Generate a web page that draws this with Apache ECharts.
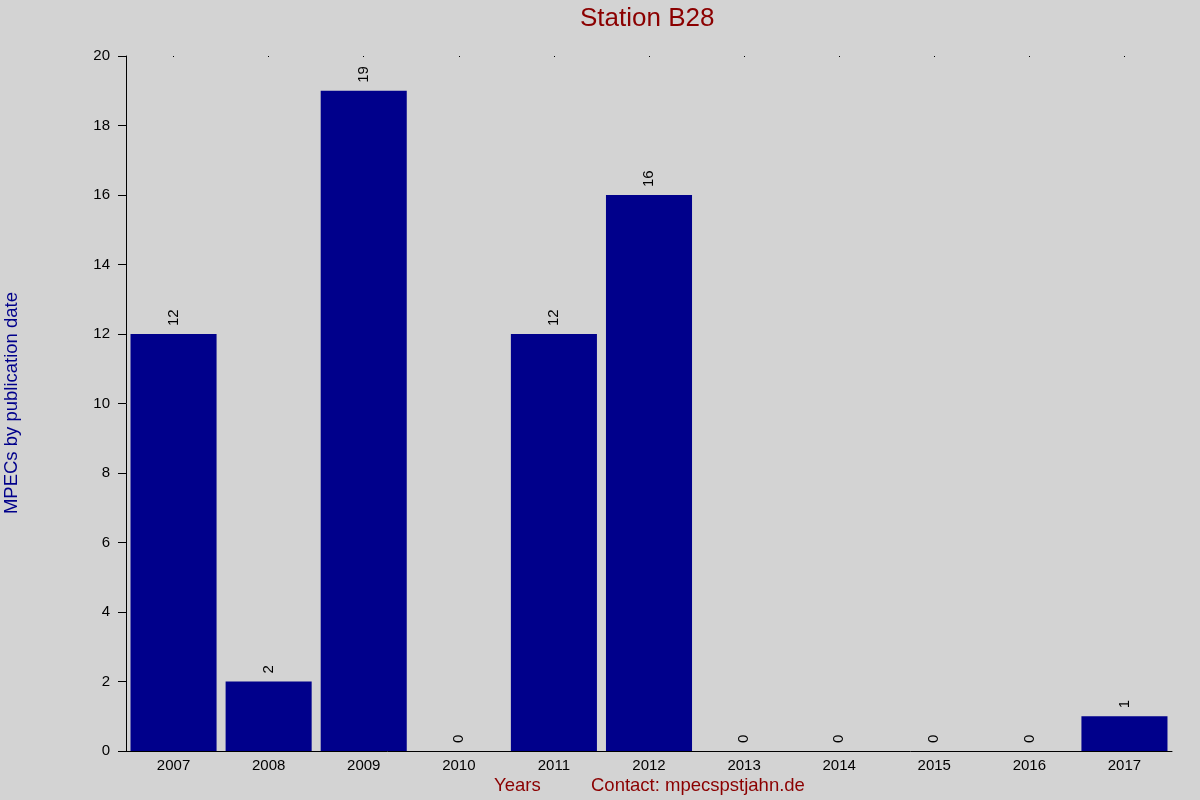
<!DOCTYPE html>
<html>
<head>
<meta charset="utf-8">
<script src="https://cdn.jsdelivr.net/npm/echarts@6/dist/echarts.min.js"></script>
<style>
    html, body { margin: 0; padding: 0; background: #d3d3d3; }
    #chart { width: 1200px; height: 800px; }
</style>
</head>
<body>
<div id="chart"></div>
<script>
'use strict';
// data
var years = ['2007', '2008', '2009', '2010', '2011', '2012', '2013', '2014', '2015', '2016', '2017'];
var mpecs = [12, 2, 19, 0, 12, 16, 0, 0, 0, 0, 1];
var yTicks = [0, 2, 4, 6, 8, 10, 12, 14, 16, 18, 20];

var font = 'Liberation Sans, Arial, sans-serif';
var myChart = echarts.init(document.getElementById('chart'));
var option = {
    backgroundColor: '#d3d3d3',
    animation: false,
    grid: { left: 126, right: 28, top: 56, bottom: 49 },
    xAxis: [{
        type: 'category',
        data: years,
        axisLine: { lineStyle: { color: '#000', width: 1 } },
        axisTick: { show: false },
        axisLabel: { color: '#000', fontSize: 15, fontFamily: font, margin: 7 }
    }, {
        type: 'category',
        data: years,
        position: 'top',
        axisLine: { show: false },
        axisTick: { show: true, alignWithLabel: true, inside: true, length: 1, lineStyle: { color: '#000' } },
        axisLabel: { show: false }
    }],
    yAxis: {
        type: 'value',
        min: yTicks[0],
        max: yTicks[yTicks.length - 1],
        interval: 2,
        splitLine: { show: false },
        axisLine: { show: true, lineStyle: { color: '#000', width: 1 } },
        axisTick: { show: true, length: 8, lineStyle: { color: '#000' } },
        axisLabel: { color: '#000', fontSize: 15, fontFamily: font, margin: 16 }
    },
    graphic: [
        {
            type: 'text', left: 580, top: 6,
            style: { text: 'Station B28', fill: '#8b0000', font: '26px ' + font }
        },
        {
            type: 'text', left: 2, top: 292, rotation: Math.PI / 2,
            style: { text: 'MPECs by publication date', fill: '#00008b', font: '18.5px ' + font }
        },
        {
            type: 'text', left: 494, top: 776,
            style: { text: 'Years', fill: '#8b0000', font: '18.5px ' + font }
        },
        {
            type: 'text', left: 591, top: 776,
            style: { text: 'Contact: mpecspstjahn.de', fill: '#8b0000', font: '18.5px ' + font }
        }
    ],
    series: [{
        type: 'bar',
        data: mpecs,
        barCategoryGap: '9.5%',
        itemStyle: { color: '#00008b' },
        label: {
            show: true,
            position: 'top',
            rotate: 90,
            distance: 8,
            align: 'left',
            verticalAlign: 'middle',
            color: '#000',
            fontSize: 15,
            fontFamily: font
        }
    }]
};
myChart.setOption(option);
</script>
</body>
</html>
